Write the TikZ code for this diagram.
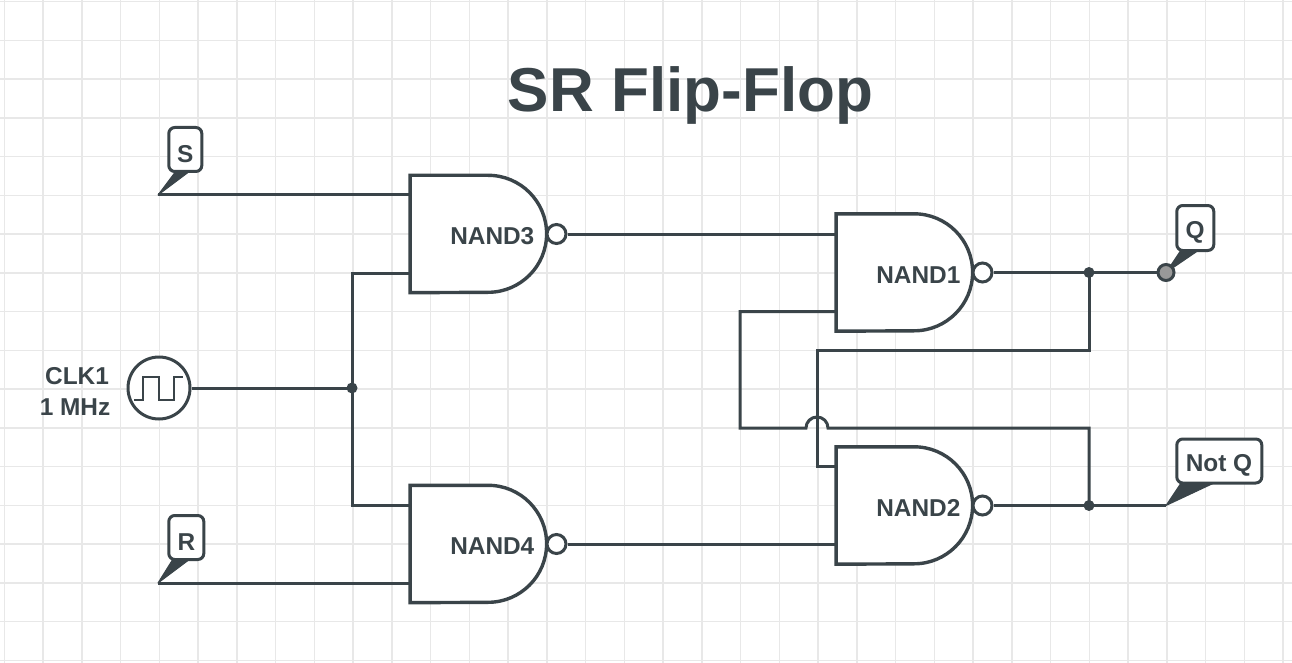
\documentclass[tikz,border=0pt]{standalone}
\usepackage{fontspec}
\setmainfont{Liberation Sans}
\definecolor{ink}{HTML}{3A4449}
\definecolor{gridc}{HTML}{E8E8E8}
\definecolor{dotgray}{HTML}{999999}
\tikzset{
  wire/.style={draw=ink,line width=3pt,line join=miter},
  gateline/.style={draw=ink,fill=white,line width=3.4pt,line join=miter},
  gatebox/.style={inner sep=0pt,minimum width=136pt,minimum height=117pt},
  boldtext/.style={text=ink,font=\fontsize{24.4}{26}\selectfont\bfseries,inner sep=0pt},
  bubble/.style={circle,draw=ink,fill=white,line width=3pt,minimum size=19pt,inner sep=0pt},
  junction/.style={circle,fill=ink,minimum size=11pt,inner sep=0pt},
  callout/.style={draw=ink,fill=white,line width=3pt,rounded corners=6pt,inner sep=0pt},
  tail/.style={fill=ink,draw=ink,line width=1pt,line join=round},
  gridline/.style={draw=gridc,line width=1.5pt}
}
\newcommand{\nandgate}[4]{% name, x centre of box, y middle, label
  \node[gatebox] (#1) at (#2,#3) {};
  \draw[gateline] (#1.north west) -- ++(78,0) arc[start angle=90,end angle=-90,radius=58.5pt] -- (#1.south west) -- cycle;
  \node[bubble] (#1o) at ([xshift=10pt]#1.east) {};
  \coordinate (#1a) at ([yshift=39pt]#1.west);
  \coordinate (#1b) at ([yshift=-39pt]#1.west);
  \node[boldtext] (#1l) at ([xshift=14pt,yshift=-2.5pt]#1.center) {#4};
}
\begin{document}
\begin{tikzpicture}[x=1pt,y=-1pt]
\useasboundingbox (0,0) rectangle (1292,663);
\fill[white] (0,0) rectangle (1292,663);
\foreach \i in {0,...,33} \draw[gridline] ({4.3+38.75*\i},0) -- ({4.3+38.75*\i},663);
\foreach \i in {0,...,17} \draw[gridline] (0,{1.7+38.75*\i}) -- (1292,{1.7+38.75*\i});

\node[text=ink,font=\fontsize{62}{64}\selectfont\bfseries,anchor=base,inner sep=0pt] (title) at (690.5,112) {SR Flip-Flop};

% free-end coordinates
\coordinate (stip) at (158,195);
\coordinate (rtip) at (158,583);
\coordinate (ntip) at (1166,505.5);
\coordinate (clkj) at (352,388);
\coordinate (qj) at (1089,272.5);
\coordinate (nj) at (1089,505.5);

% gates
\nandgate{g3}{478.3}{234}{NAND3}
\nandgate{g4}{478.3}{544}{NAND4}
\nandgate{g1}{904.3}{272.5}{NAND1}
\nandgate{g2}{904.3}{505.5}{NAND2}

\draw[wire] (stip) -- (g3a);
\draw[wire] (rtip) -- (g4b);
\draw[wire] (g3o) -- (g3o -| g1.west);
\draw[wire] (g4o) -- (g4o -| g2.west);
\draw[wire] (g3b) -- (g3b -| clkj) -- (g4a -| clkj) -- (g4a);
\draw[wire] (g1o) -- (1166,272.5);
\draw[wire] (g2o) -- (ntip);
\draw[wire] (g1b) -- (g1b -| 740,0) -- (740,428) -- (806,428) arc[start angle=180,end angle=0,radius=11pt] -- (1089,428) -- (nj);
\draw[wire] (qj) -- (1089,350) -- (817,350) -- (817,466.5) -- (g2a);

% clock
\node[circle,draw=ink,fill=white,line width=3pt,minimum size=62pt,inner sep=0pt] (clk) at (159,388) {};
\draw[wire] (clk) -- (clkj);
\draw[draw=ink,line width=1.5pt] (134,400) -- (143,400) -- (143,377) -- (159,377) -- (159,400) -- (174,400) -- (174,377) -- (183,377);
\node[boldtext] (clkt) at (77,376) {CLK1};
\node[boldtext] (clkf) at (75,407) {1 MHz};

% junctions
\node[junction] (j1) at (clkj) {};
\node[junction] (j2) at (qj) {};
\node[junction] (j3) at (nj) {};

% callouts
\fill[tail] (stip) -- (176,171) -- (190,171) -- cycle;
\node[callout,minimum width=33pt,minimum height=44pt] (sbox) at (185.3,149.5) {};
\node[boldtext] (stext) at (185.3,154.5) {S};
\fill[tail] (rtip) -- (173,559) -- (190,559) -- cycle;
\node[callout,minimum width=35pt,minimum height=44pt] (rbox) at (186.3,537.5) {};
\node[boldtext] (rtext) at (186.5,542) {R};
\fill[tail] (1166,272.5) -- (1181,250) -- (1199,250) -- cycle;
\node[callout,minimum width=37pt,minimum height=45pt] (qbox) at (1195.3,228) {};
\node[boldtext] (qtext) at (1195,232.5) {Q};
\fill[tail] (ntip) -- (1181,483) -- (1214,483) -- cycle;
\node[callout,minimum width=85pt,minimum height=44pt] (nbox) at (1219.3,461) {};
\node[boldtext] (ntext) at (1219,465) {Not Q};
\node[circle,draw=ink,fill=dotgray,line width=3pt,minimum size=16pt,inner sep=0pt] (qdot) at (1166,272.5) {};
\end{tikzpicture}
\end{document}
